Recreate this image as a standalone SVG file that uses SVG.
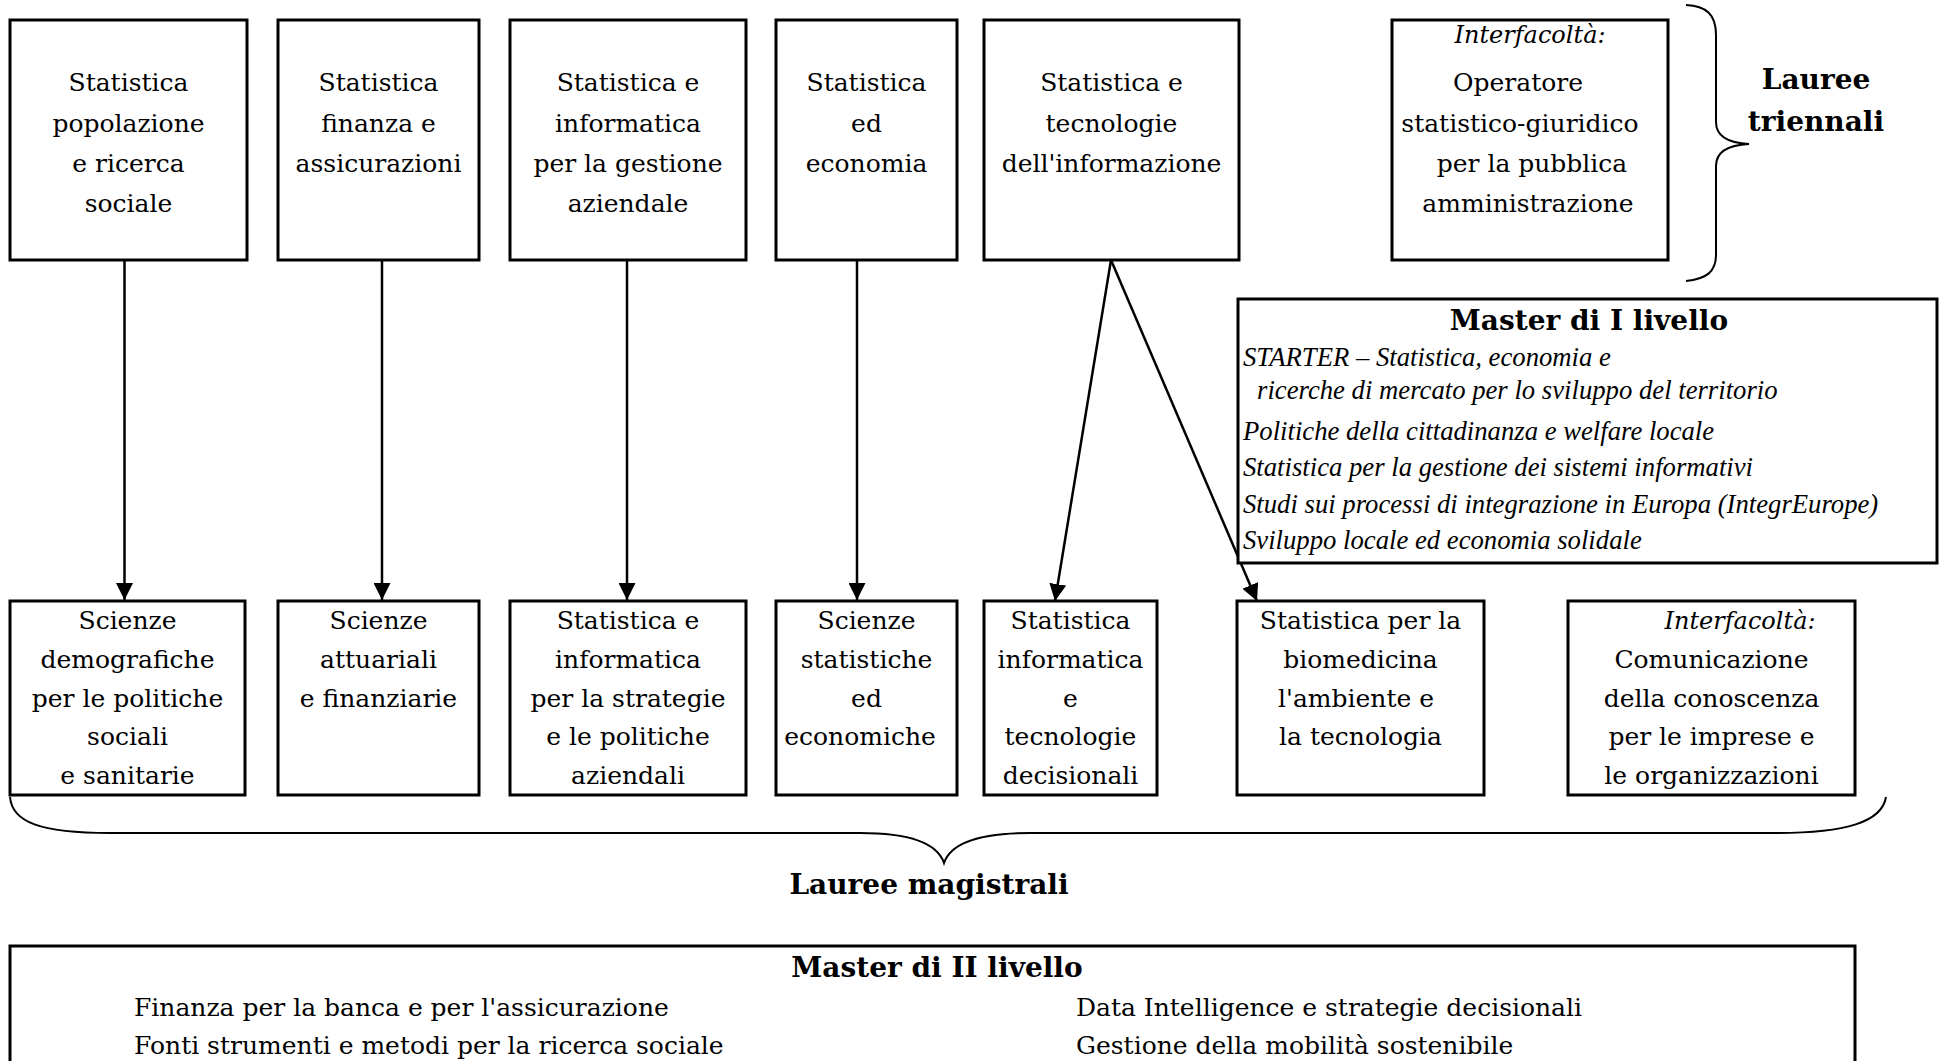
<svg xmlns="http://www.w3.org/2000/svg" width="1944" height="1061" viewBox="0 0 1944 1061">
<style>
.box{fill:#fff;stroke:#000;stroke-width:3}
.t{font-family:"DejaVu Serif",serif;font-size:25px;fill:#000;text-anchor:middle}
.ti{font-family:"DejaVu Serif",serif;font-size:24px;font-style:italic;fill:#000;text-anchor:middle}
.b{font-family:"DejaVu Serif",serif;font-size:28px;font-weight:bold;fill:#000;text-anchor:middle}
.it{font-family:"Liberation Serif",serif;font-size:26.7px;font-style:italic;fill:#000}
.l{font-family:"DejaVu Serif",serif;font-size:25px;fill:#000}
.c{stroke:#000;stroke-width:2.5;fill:none}
.br{stroke:#000;stroke-width:2;fill:none}
</style>
<defs>
<marker id="ah" viewBox="0 0 17 17" refX="17" refY="8.5" markerWidth="17" markerHeight="17" markerUnits="userSpaceOnUse" orient="auto">
<path d="M0,0 L17,8.5 L0,17 z" fill="#000"/>
</marker>
</defs>
<rect width="1944" height="1061" fill="#fff"/>

<g id="connectors">
<line class="c" x1="124.5" y1="261" x2="124.5" y2="600" marker-end="url(#ah)"/>
<line class="c" x1="382" y1="261" x2="382" y2="600" marker-end="url(#ah)"/>
<line class="c" x1="627" y1="261" x2="627" y2="600" marker-end="url(#ah)"/>
<line class="c" x1="857" y1="261" x2="857" y2="600" marker-end="url(#ah)"/>
<line class="c" x1="1111" y1="260" x2="1055" y2="601" marker-end="url(#ah)"/>
<line class="c" x1="1111" y1="260" x2="1257" y2="601" marker-end="url(#ah)"/>
</g>

<g id="t1"><rect class="box" x="10" y="20" width="237" height="240"/>
<text class="t" x="128.5" y="91">Statistica</text><text class="t" x="128.5" y="132">popolazione</text><text class="t" x="128.5" y="172">e ricerca</text><text class="t" x="128.5" y="212">sociale</text></g>
<g id="t2"><rect class="box" x="278" y="20" width="201" height="240"/>
<text class="t" x="378.5" y="91">Statistica</text><text class="t" x="378.5" y="132">finanza e</text><text class="t" x="378.5" y="172">assicurazioni</text></g>
<g id="t3"><rect class="box" x="510" y="20" width="236" height="240"/>
<text class="t" x="628" y="91">Statistica e</text><text class="t" x="628" y="132">informatica</text><text class="t" x="628" y="172">per la gestione</text><text class="t" x="628" y="212">aziendale</text></g>
<g id="t4"><rect class="box" x="776" y="20" width="181" height="240"/>
<text class="t" x="866.5" y="91">Statistica</text><text class="t" x="866.5" y="132">ed</text><text class="t" x="866.5" y="172">economia</text></g>
<g id="t5"><rect class="box" x="984" y="20" width="255" height="240"/>
<text class="t" x="1111.5" y="91">Statistica e</text><text class="t" x="1111.5" y="132">tecnologie</text><text class="t" x="1111.5" y="172">dell'informazione</text></g>
<g id="t6"><rect class="box" x="1392" y="20" width="276" height="240"/>
<text class="ti" x="1530" y="43">Interfacoltà:</text>
<text class="t" x="1518" y="91">Operatore</text><text class="t" x="1520" y="132">statistico-giuridico</text><text class="t" x="1532" y="172">per la pubblica</text><text class="t" x="1528" y="212">amministrazione</text></g>

<g id="brace-triennali">
<path class="br" d="M1686,5 C1706,6 1716,14 1716,35 L1716,122 C1716,136 1728,143 1749,144 C1728,145 1716,152 1716,166 L1716,255 C1716,272 1706,279 1686,281"/>
<text class="b" x="1816" y="89">Lauree</text><text class="b" x="1816" y="131">triennali</text>
</g>

<g id="master1"><rect class="box" x="1238" y="299" width="699" height="264"/>
<text class="b" x="1589" y="330">Master di I livello</text>
<text class="it" x="1243" y="366">STARTER – Statistica, economia e</text>
<text class="it" x="1257" y="399">ricerche di mercato per lo sviluppo del territorio</text>
<text class="it" x="1243" y="440">Politiche della cittadinanza e welfare locale</text>
<text class="it" x="1243" y="476">Statistica per la gestione dei sistemi informativi</text>
<text class="it" x="1243" y="513">Studi sui processi di integrazione in Europa (IntegrEurope)</text>
<text class="it" x="1243" y="549">Sviluppo locale ed economia solidale</text></g>

<g id="m1"><rect class="box" x="10" y="601" width="235" height="194"/>
<text class="t" x="127.5" y="629">Scienze</text><text class="t" x="127.5" y="668">demografiche</text><text class="t" x="127.5" y="707">per le politiche</text><text class="t" x="127.5" y="745">sociali</text><text class="t" x="127.5" y="784">e sanitarie</text></g>
<g id="m2"><rect class="box" x="278" y="601" width="201" height="194"/>
<text class="t" x="378.5" y="629">Scienze</text><text class="t" x="378.5" y="668">attuariali</text><text class="t" x="378.5" y="707">e finanziarie</text></g>
<g id="m3"><rect class="box" x="510" y="601" width="236" height="194"/>
<text class="t" x="628" y="629">Statistica e</text><text class="t" x="628" y="668">informatica</text><text class="t" x="628" y="707">per la strategie</text><text class="t" x="628" y="745">e le politiche</text><text class="t" x="628" y="784">aziendali</text></g>
<g id="m4"><rect class="box" x="776" y="601" width="181" height="194"/>
<text class="t" x="866.5" y="629">Scienze</text><text class="t" x="866.5" y="668">statistiche</text><text class="t" x="866.5" y="707">ed</text><text class="t" x="860" y="745">economiche</text></g>
<g id="m5"><rect class="box" x="984" y="601" width="173" height="194"/>
<text class="t" x="1070.5" y="629">Statistica</text><text class="t" x="1070.5" y="668">informatica</text><text class="t" x="1070.5" y="707">e</text><text class="t" x="1070.5" y="745">tecnologie</text><text class="t" x="1070.5" y="784">decisionali</text></g>
<g id="m6"><rect class="box" x="1237" y="601" width="247" height="194"/>
<text class="t" x="1360.5" y="629">Statistica per la</text><text class="t" x="1360.5" y="668">biomedicina</text><text class="t" x="1356" y="707">l'ambiente e</text><text class="t" x="1360.5" y="745">la tecnologia</text></g>
<g id="m7"><rect class="box" x="1568" y="601" width="287" height="194"/>
<text class="ti" x="1740" y="629">Interfacoltà:</text>
<text class="t" x="1711.5" y="668">Comunicazione</text><text class="t" x="1711.5" y="707">della conoscenza</text><text class="t" x="1711.5" y="745">per le imprese e</text><text class="t" x="1711.5" y="784">le organizzazioni</text></g>

<g id="brace-magistrali">
<path class="br" d="M10,797 C12,822 40,833 110,833 L860,833 C915,833 938,845 944,863 C950,845 973,833 1030,833 L1776,833 C1846,833 1882,822 1886,797"/>
<text class="b" x="929" y="894">Lauree magistrali</text>
</g>

<g id="master2"><rect class="box" x="10" y="946" width="1845" height="140"/>
<text class="b" x="937" y="977">Master di II livello</text>
<text class="l" x="134" y="1016">Finanza per la banca e per l'assicurazione</text>
<text class="l" x="134" y="1054">Fonti strumenti e metodi per la ricerca sociale</text>
<text class="l" x="1076" y="1016">Data Intelligence e strategie decisionali</text>
<text class="l" x="1076" y="1054">Gestione della mobilità sostenibile</text></g>
</svg>
